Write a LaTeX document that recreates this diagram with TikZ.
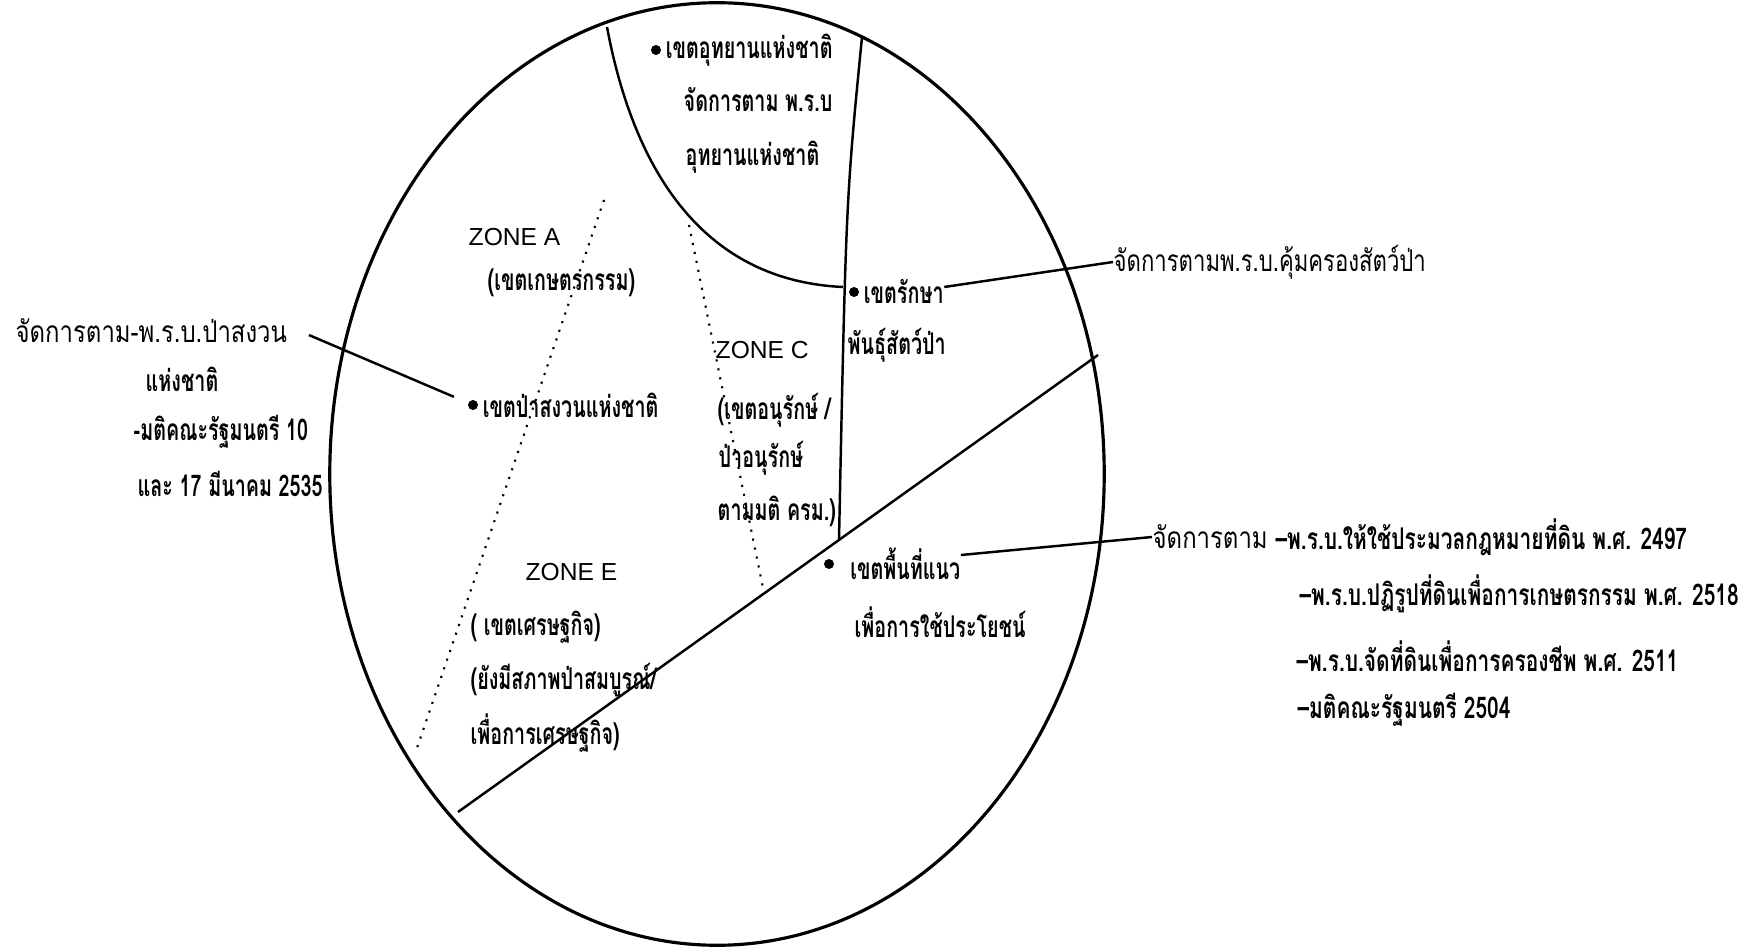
\documentclass[tikz,border=0pt]{standalone}
\usepackage{fontspec}
\usepackage{tikz}
\usetikzlibrary{positioning, calc}
\newfontfamily\thaifont[Script=Thai, FakeStretch=0.8]{Loma}
\newfontfamily\thaithin[Script=Thai, FakeStretch=0.74]{Loma}
\newfontfamily\thaicond[Script=Thai, FakeStretch=0.66]{Loma}
\newfontfamily\thaimid[Script=Thai, FakeStretch=0.70]{Loma}
\newfontfamily\zonefont{Liberation Sans}
\tikzset{
  thtext/.style={font=\thaifont\fontsize{8.5}{10}\selectfont, inner sep=0pt, anchor=west},
  thbold/.style={font=\thaicond\bfseries\fontsize{8.5}{10}\selectfont, inner sep=0pt, anchor=west},
  thlaw/.style={font=\thaimid\bfseries\fontsize{8.5}{10}\selectfont, inner sep=0pt, anchor=west},
  zonetext/.style={font=\zonefont\fontsize{7}{8}\selectfont, inner sep=0pt, anchor=west},
  bullet/.style={circle, fill=black, inner sep=0pt, minimum size=1mm},
  zoneline/.style={line width=0.7pt},
  zonedots/.style={line width=0.6pt, dotted}
}

\begin{document}
\begin{tikzpicture}[x=0.01cm, y=-0.01cm]
  \useasboundingbox (0,0) rectangle (1751,949);
  % Forest area
  \draw[line width=0.9pt] (717,474) ellipse [x radius=3.87cm, y radius=4.71cm];
  % Zone borders
  \coordinate (parktop) at (607,27);
  \coordinate (parkend) at (843,287);
  \coordinate (midtop) at (862,37);
  \coordinate (midbot) at (839,540);
  \coordinate (cutlow) at (458,812);
  \coordinate (cuthigh) at (1098,355);
  \draw[zoneline] (parktop) .. controls (630,150) and (690,280) .. (parkend);
  \draw[zoneline] (midtop) .. controls (846,200) .. (midbot);
  \draw[zoneline] (cutlow) -- (cuthigh);
  \draw[zonedots] (604,200) -- (417,748);
  \draw[zonedots] (689,225) -- (763,588);
  % National park
  \node[bullet] (parkdot) at (656,50) {};
  \node[thbold, right=1pt of parkdot] (parktxt) {เขตอุทยานแห่งชาติ};
  \node[thbold] (parklaw) at (683,100) {จัดการตาม พ.ร.บ};
  \node[thbold] (parklaw2) at (685,157) {อุทยานแห่งชาติ};
  % Zone A
  \node[zonetext] (zonea) at (468,237) {ZONE A};
  \node[thbold] (zoneatxt) at (487,283) {(เขตเกษตรกรรม)};
  % Reserved forest
  \node[bullet] (forestdot) at (473,405) {};
  \node[thbold, right=1pt of forestdot] (foresttxt) {เขตป่าสงวนแห่งชาติ};
  \node[thtext] (forestlaw) at (15,331) {จัดการตาม-พ.ร.บ.ป่าสงวน};
  \node[thbold] (forestlaw2) at (145,379) {แห่งชาติ};
  \node[thbold] (forestlaw3) at (133,432) {-มติคณะรัฐมนตรี 10};
  \node[thbold] (forestlaw4) at (137,484) {และ 17 มีนาคม 2535};
  \draw[zoneline, shorten <=0.23cm, shorten >=0.15cm] ($(forestlaw.east)+(0,-5)$) -- (forestdot);
  % Zone C
  \node[zonetext] (zonec) at (715,350) {ZONE C};
  \node[thbold] (zonectxt) at (717,410) {(เขตอนุรักษ์ /};
  \node[thbold] (zonectxt2) at (718,458) {ป่าอนุรักษ์};
  \node[thbold] (zonectxt3) at (717,511) {ตามมติ ครม.)};
  % Wildlife sanctuary
  \node[bullet] (wilddot) at (854,292) {};
  \node[thbold, right=1pt of wilddot] (wildtxt) {เขตรักษา};
  \node[thbold] (wildtxt2) at (847,345) {พันธุ์สัตว์ป่า};
  \node[thtext, font=\thaithin\fontsize{8.5}{10}\selectfont] (wildlaw) at (1113,262) {จัดการตามพ.ร.บ.คุ้มครองสัตว์ป่า};
  \draw[zoneline] ($(wildtxt.east)+(0,-5)$) -- (wildlaw.west);
  % Zone E
  \node[zonetext] (zonee) at (525,572) {ZONE E};
  \node[thbold] (zoneetxt) at (470,627) {( เขตเศรษฐกิจ)};
  \node[thbold] (zoneetxt2) at (470,680) {(ยังมีสภาพป่าสมบูรณ์/};
  \node[thbold] (zoneetxt3) at (470,733) {เพื่อการเศรษฐกิจ)};
  % Land use
  \node[bullet] (landdot) at (829,564) {};
  \node[thbold, right=0.15cm of landdot] (landtxt) {เขตพื้นที่แนว};
  \node[thbold] (landtxt2) at (854,622) {เพื่อการใช้ประโยชน์};
  \node[thtext] (landlaw) at (1152,537) {จัดการตาม};
  \node[thlaw] (landlaw1) at (1275,537) {–พ.ร.บ.ให้ใช้ประมวลกฎหมายที่ดิน พ.ศ. 2497};
  \node[thlaw] (landlaw2) at (1299,594) {–พ.ร.บ.ปฏิรูปที่ดินเพื่อการเกษตรกรรม พ.ศ. 2518};
  \node[thlaw] (landlaw3) at (1296,656) {–พ.ร.บ.จัดที่ดินเพื่อการครองชีพ พ.ศ. 2511};
  \node[thlaw] (landlaw4) at (1297,710) {–มติคณะรัฐมนตรี 2504};
  \draw[zoneline] ($(landtxt.east)+(0,-9)$) -- (landlaw.west);
\end{tikzpicture}
\end{document}
